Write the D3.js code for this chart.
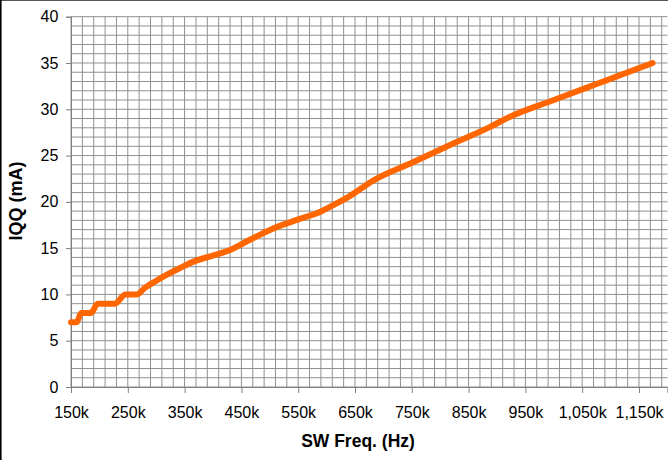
<!DOCTYPE html>
<html>
<head>
<meta charset="utf-8">
<script src="https://cdn.jsdelivr.net/npm/d3@7"></script>
<style>
  html, body { margin: 0; padding: 0; background: #fff; }
  svg { display: block; }
  text { font-family: "Liberation Sans", Arial, sans-serif; fill: #000; }
</style>
</head>
<body>
<svg id="chart" width="668" height="460"></svg>
<script>
// Data (frequency in kHz, IQQ in mA)
const freqK = [150, 160, 168, 185, 197, 227, 246, 266, 280, 298, 315, 340, 368, 400, 430, 465, 505, 550, 588, 610, 640, 682, 753, 823, 888, 923, 1000, 1087, 1174];
const iqq   = [7,   7,   8,   8,   9,   9,   10,  10,  10.7, 11.4, 12.0, 12.8, 13.6, 14.2, 14.8, 15.9, 17.1, 18.1, 18.9, 19.6, 20.6, 22.3, 24.3, 26.3, 28.1, 29.2, 31.0, 33.0, 35.0];
const xTicks = [150, 250, 350, 450, 550, 650, 750, 850, 950, 1050, 1150];
const yTicks = [0, 5, 10, 15, 20, 25, 30, 35, 40];
const xTitle = "SW Freq. (Hz)";
const yTitle = "IQQ (mA)";

const svg = d3.select("#chart");
const x = d3.scaleLinear().domain([150, 1200]).range([71, 667.4]);
const y = d3.scaleLinear().domain([0, 40]).range([387, 16.7]);

// borders
svg.append("line").attr("x1", 0).attr("x2", 668).attr("y1", 0.5).attr("y2", 0.5)
  .attr("stroke", "#555").attr("stroke-width", 1);
svg.append("line").attr("x1", 0.8).attr("x2", 0.8).attr("y1", 0).attr("y2", 460)
  .attr("stroke", "#000").attr("stroke-width", 1.6);

// grid
const g = svg.append("g");
const vLines = d3.range(150, 1201, 20);
const hLines = d3.range(0, 41, 1);
g.selectAll("line.v").data(vLines).join("line")
  .attr("x1", d => x(d)).attr("x2", d => x(d))
  .attr("y1", y(40)).attr("y2", y(0))
  .attr("stroke", "#8f8f8f").attr("stroke-width", 1);
g.selectAll("line.h").data(hLines).join("line")
  .attr("x1", x(150)).attr("x2", x(1200))
  .attr("y1", d => y(d)).attr("y2", d => y(d))
  .attr("stroke", "#8f8f8f").attr("stroke-width", 1);

// axes
const xAxis = d3.axisBottom(x).tickValues(xTicks).tickSize(6).tickPadding(13.5)
  .tickFormat(d => d3.format(",")(d) + "k");
const gx = svg.append("g").attr("transform", `translate(0,${y(0)})`).call(xAxis);
gx.select(".domain").attr("stroke", "#808080");
gx.selectAll(".tick line").attr("stroke", "#808080");
gx.selectAll(".tick text").attr("font-size", 16).attr("font-family", '"Liberation Sans", Arial, sans-serif').attr("fill", "#000");

const yAxis = d3.axisLeft(y).tickValues(yTicks).tickSize(5).tickPadding(7.7);
const gy = svg.append("g").attr("transform", `translate(${x(150)},0)`).call(yAxis);
gy.select(".domain").attr("stroke", "#808080");
gy.selectAll(".tick line").attr("stroke", "#808080");
gy.selectAll(".tick text").attr("font-size", 16).attr("font-family", '"Liberation Sans", Arial, sans-serif').attr("fill", "#000");

// line
const pts = freqK.map((f, i) => [f, iqq[i]]);
const line = d3.line().x(d => x(d[0])).y(d => y(d[1])).curve(d3.curveMonotoneX);
svg.append("path").datum(pts).attr("d", line)
  .attr("fill", "none").attr("stroke", "#ff6600").attr("stroke-width", 6)
  .attr("stroke-linecap", "round").attr("stroke-linejoin", "round");

// titles
svg.append("text").attr("x", 358).attr("y", 447).attr("text-anchor", "middle")
  .attr("font-size", 17.5).attr("font-weight", "bold").text(xTitle);
svg.append("text").attr("transform", "translate(22,201) rotate(-90)")
  .attr("text-anchor", "middle").attr("font-size", 18).attr("font-weight", "bold").text(yTitle);
</script>
</body>
</html>
